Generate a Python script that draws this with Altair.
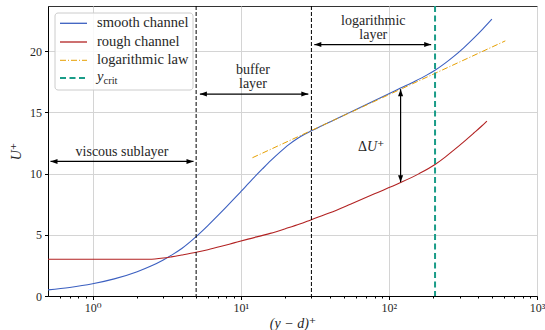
import altair as alt
import pandas as pd

# ---------------- data ----------------
smooth_x = [0.5, 0.7, 1.0, 1.4, 2.0, 2.5, 3.0, 3.5, 4.0, 5.0, 6.0, 7.0, 8.0, 9.0, 10.0,
            12, 14, 16, 18.4, 21, 24, 27, 30, 38, 47, 60, 79, 100, 119, 150, 180, 205,
            240, 273, 320, 373, 430, 496]
smooth_u = [0.5, 0.7, 1.0, 1.4, 1.99, 2.47, 2.95, 3.42, 3.88, 4.85, 5.75, 6.56, 7.28, 7.93, 8.52,
            9.55, 10.38, 11.08, 11.76, 12.35, 12.85, 13.22, 13.5, 14.1, 14.63, 15.25, 15.94,
            16.53, 16.97, 17.55, 18.05, 18.45, 19.03, 19.56, 20.28, 21.05, 21.81, 22.62]

rough_x = [0.5, 1.0, 2.0, 2.4, 3.0, 3.4, 4.0, 5.0, 6.0, 7.4, 9.0, 11.2, 15.8, 20, 25, 30, 40,
           55, 80, 119, 160, 205, 240, 273, 320, 373, 420, 459]
rough_u = [3.0, 3.0, 3.0, 3.0, 3.1, 3.2, 3.35, 3.57, 3.78, 4.06, 4.34, 4.65, 5.12, 5.5, 5.88,
           6.24, 6.8, 7.5, 8.35, 9.25, 10.0, 10.75, 11.35, 11.9, 12.6, 13.3, 13.85, 14.3]

loglaw_x = [12, 611]
loglaw_u = [11.3, 20.85]

region_bounds = [5, 30]
y_crit = [205]

arrow_start = [0.52, 5.3, 31.4]
arrow_end = [4.8, 28.6, 193]
arrow_level = [11.0, 16.5, 20.55]
region_labels = ["viscous sublayer", "buffer\nlayer", "logarithmic\nlayer"]
region_label_x = [1.58, 12.1, 78.5]
region_label_u = [11.75, 18.45, 22.46]   # first text line

delta_x = [120]
delta_top = [16.9]
delta_bottom = [9.3]
delta_label_x = [71.1]
delta_label_u = [12.15]

legend_names = ["smooth channel", "rough channel", "logarithmic law"]

x_major = [1, 10, 100, 1000]
x_minor = [0.6, 0.7, 0.8, 0.9, 2, 3, 4, 5, 6, 7, 8, 9, 20, 30, 40, 50, 60, 70, 80, 90,
           200, 300, 400, 500, 600, 700, 800, 900]
y_ticks = [0, 5, 10, 15, 20]

# ---------------- styling ----------------
FONT = "Liberation Serif, DejaVu Serif, serif"
TXT = "#262626"
BLUE = "#3b5fc0"
RED = "#b22222"
ORANGE = "#e69f00"
TEAL = "#1a9c88"

xscale = alt.Scale(type="log", domain=[0.5, 1000], nice=False)
yscale = alt.Scale(domain=[0, 23.7], nice=False, zero=False)

major_test = "indexof([1,10,100,1000], datum.value) >= 0"
xaxis = alt.Axis(
    values=x_major + x_minor,
    labelExpr="datum.value == 1 ? '10⁰' : datum.value == 10 ? '10¹' : datum.value == 100 ? '10²' : datum.value == 1000 ? '10³' : ''",
    tickSize={"condition": {"test": major_test, "value": 3.5}, "value": 2},
    gridOpacity={"condition": {"test": major_test, "value": 1}, "value": 0},
    labelFlush=False, labelOverlap=False, labelBound=False,
    title="(y − d)⁺", titleFontStyle="italic", titlePadding=3,
    labelPadding=3,
)
yaxis = alt.Axis(values=y_ticks, tickSize=3.5, labelFlush=False, labelOverlap=False,
                 title="U⁺", titleFontStyle="italic", titlePadding=6, labelPadding=3)

X = lambda f="x": alt.X(f"{f}:Q", scale=xscale, axis=xaxis)
Y = lambda f="u": alt.Y(f"{f}:Q", scale=yscale, axis=yaxis)

smooth_df = pd.DataFrame({"x": smooth_x, "u": smooth_u})
rough_df = pd.DataFrame({"x": rough_x, "u": rough_u})
loglaw_df = pd.DataFrame({"x": loglaw_x, "u": loglaw_u})
bounds_df = pd.DataFrame({"x": region_bounds})
crit_df = pd.DataFrame({"x": y_crit})
arrows_df = pd.DataFrame({"x": arrow_start, "x2": arrow_end, "u": arrow_level})
labels_df = pd.DataFrame({"x": region_label_x, "u": region_label_u, "t": region_labels})
vert_df = pd.DataFrame({"x": delta_x, "u": delta_top, "u2": delta_bottom})
dlabel_df = pd.DataFrame({"x": delta_label_x, "u": delta_label_u})
heads_df = pd.DataFrame({
    "x": arrow_start + arrow_end + delta_x + delta_x,
    "u": arrow_level + arrow_level + delta_top + delta_bottom,
    "angle": [180] * 3 + [0] * 3 + [270, 90],
})

bounds = alt.Chart(bounds_df).mark_rule(color="black", strokeWidth=1, strokeDash=[4, 2]).encode(x=X())
smooth = alt.Chart(smooth_df).mark_line(color=BLUE, strokeWidth=1.1, interpolate="monotone").encode(x=X(), y=Y())
rough = alt.Chart(rough_df).mark_line(color=RED, strokeWidth=1.1, interpolate="monotone").encode(x=X(), y=Y())
loglaw = alt.Chart(loglaw_df).mark_line(color=ORANGE, strokeWidth=1, strokeDash=[6, 2, 1, 2]).encode(x=X(), y=Y())
crit = alt.Chart(crit_df).mark_rule(color=TEAL, strokeWidth=2, strokeDash=[6, 3.5]).encode(x=X())

arrow_lines = alt.Chart(arrows_df).mark_rule(color="black", strokeWidth=1.2).encode(
    x=X(), x2="x2:Q", y=Y())
vert_line = alt.Chart(vert_df).mark_rule(color="black", strokeWidth=1.2).encode(
    x=X(), y=Y(), y2="u2:Q")
heads = alt.Chart(heads_df).mark_point(
    shape="M0,0L-1,-0.36L-1,0.36Z", filled=True, color="black", opacity=1, size=196
).encode(x=X(), y=Y(), angle=alt.Angle("angle:Q", scale=None))

region_text = alt.Chart(labels_df).mark_text(
    font=FONT, fontSize=14, lineBreak="\n", lineHeight=14, color=TXT, baseline="middle"
).encode(x=X(), y=Y(), text="t:N")
delta_sym = alt.Chart(dlabel_df).mark_text(
    font=FONT, fontSize=14, color=TXT, baseline="middle", align="right"
).encode(x=X(), y=Y(), text=alt.value("Δ"))
delta_u = alt.Chart(dlabel_df).mark_text(
    font=FONT, fontSize=14, fontStyle="italic", color=TXT, baseline="middle", align="left"
).encode(x=X(), y=Y(), text=alt.value("U⁺"))

# ---------------- manual legend (positions are styling) ----------------
one = pd.DataFrame({"a": [0]})
legend_layers = [
    alt.Chart(one).mark_rect(cornerRadius=3, fill="white", fillOpacity=0.85,
                             stroke="#cccccc", strokeWidth=1).encode(
        x=alt.value(7), x2=alt.value(145), y=alt.value(7), y2=alt.value(84))
]
rows = [17.3, 36, 54.3, 72]
line_styles = [
    dict(color=BLUE, strokeWidth=1.3),
    dict(color=RED, strokeWidth=1.3),
    dict(color=ORANGE, strokeWidth=1, strokeDash=[6, 2, 1, 2]),
    dict(color=TEAL, strokeWidth=2, strokeDash=[6, 3.5]),
]
for ry, st in zip(rows, line_styles):
    legend_layers.append(alt.Chart(one).mark_rule(**st).encode(
        x=alt.value(12), x2=alt.value(39), y=alt.value(ry)))
for ry, name in zip(rows[:3], legend_names):
    legend_layers.append(alt.Chart(one).mark_text(
        font=FONT, fontSize=14.5, align="left", baseline="middle", color=TXT).encode(
        x=alt.value(49), y=alt.value(ry), text=alt.value(name)))
legend_layers.append(alt.Chart(one).mark_text(
    font=FONT, fontSize=14.5, fontStyle="italic", align="left", baseline="middle", color=TXT).encode(
    x=alt.value(49), y=alt.value(rows[3] - 1), text=alt.value("y")))
legend_layers.append(alt.Chart(one).mark_text(
    font=FONT, fontSize=10.5, align="left", baseline="middle", color=TXT).encode(
    x=alt.value(55.5), y=alt.value(rows[3] + 2.5), text=alt.value("crit")))

chart = alt.layer(
    smooth, rough, loglaw, bounds, crit,
    arrow_lines, vert_line, heads, region_text, delta_sym, delta_u,
    *legend_layers
).properties(
    width=489, height=290, autosize="none",
    padding={"left": 48, "top": 6, "right": 8, "bottom": 34},
).configure_view(
    stroke="#333333", strokeWidth=1
).configure_axis(
    domainColor="black", domainWidth=1, tickColor="black", tickWidth=1,
    gridColor="#d4d4d4", gridWidth=1,
    labelFont=FONT, labelFontSize=12, labelColor=TXT,
    titleFont=FONT, titleFontSize=14, titleFontWeight="normal", titleColor=TXT,
)

chart.save("out.html", embed_options={"renderer": "svg", "actions": False})
